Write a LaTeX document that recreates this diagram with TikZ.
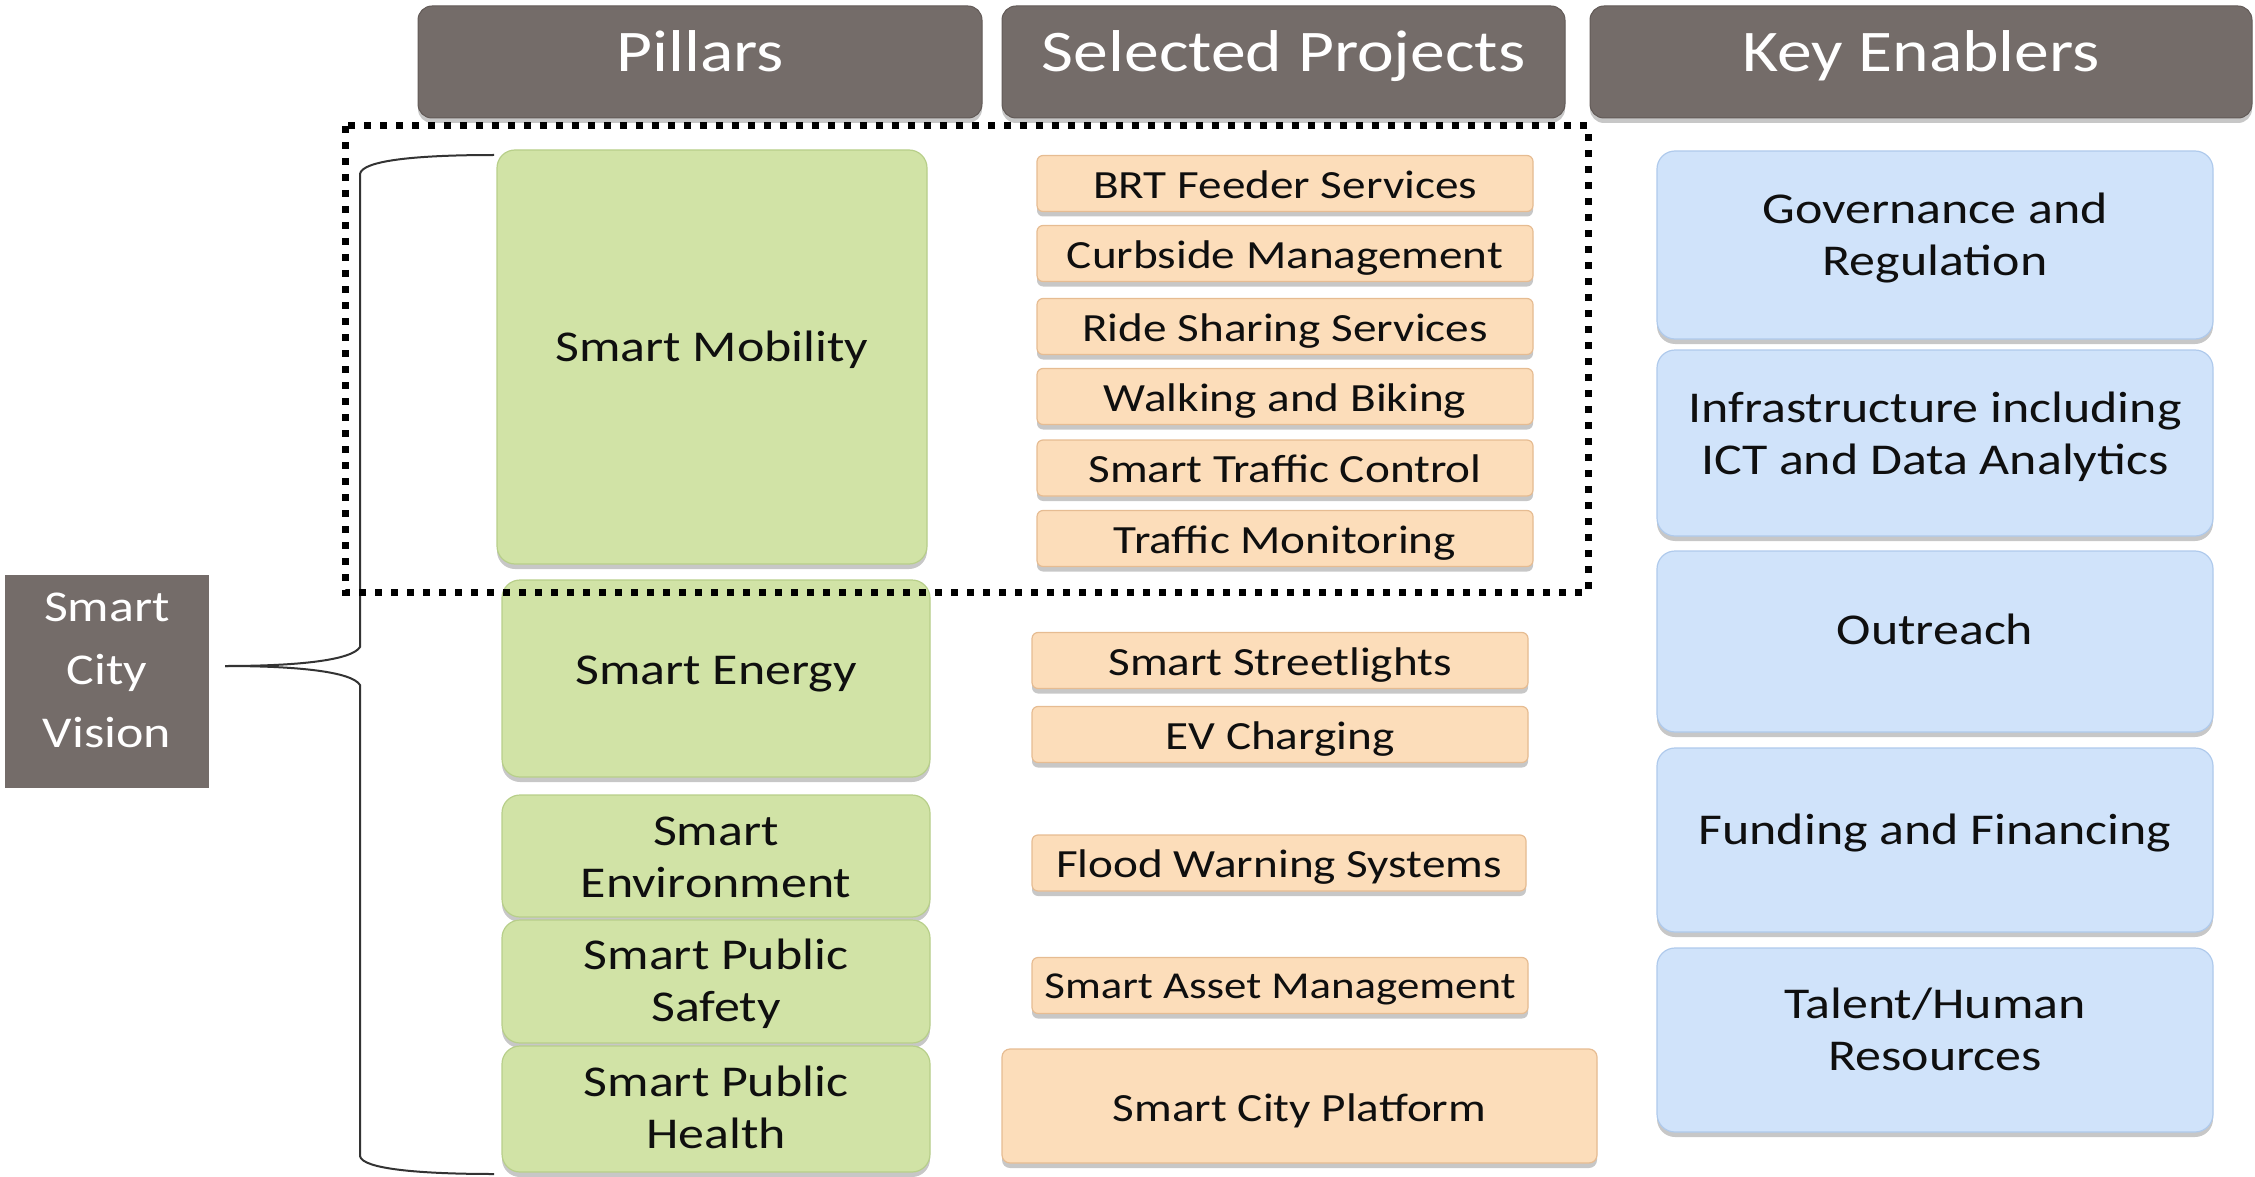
\documentclass[tikz,border=0pt]{standalone}
\usepackage{fontspec}
\setmainfont[FakeStretch=1.18]{Carlito}
\usetikzlibrary{shadows}
\definecolor{hdrfill}{HTML}{746C69}
\definecolor{hdredge}{HTML}{625A57}
\definecolor{grnfill}{HTML}{D1E3A6}
\definecolor{grnedge}{HTML}{B8CF8A}
\definecolor{orgfill}{HTML}{FCDDBA}
\definecolor{orgedge}{HTML}{E6BC92}
\definecolor{blufill}{HTML}{D0E3FA}
\definecolor{bluedge}{HTML}{AFCAEC}
\definecolor{txt}{HTML}{0F0F0F}
\newcommand\Lift[2]{\raisebox{#1}[\height][\depth]{\begin{tabular}{@{}c@{}}#2\end{tabular}}}
\begin{document}
\begin{tikzpicture}[x=1pt,y=-1pt,
  shadowed/.style={drop shadow={shadow xshift=0pt,shadow yshift=-5pt,opacity=.22,fill=black}},
  hdr/.style={shadowed,fill=hdrfill,draw=hdredge,line width=1pt,rounded corners=14pt,
    text=white,inner sep=0pt,minimum height=112pt,font=\fontsize{59}{71}\selectfont},
  pillar/.style={shadowed,fill=grnfill,draw=grnedge,line width=1.2pt,rounded corners=18pt,
    text=txt,inner sep=0pt,font=\fontsize{44}{52}\selectfont},
  proj/.style={shadowed,fill=orgfill,draw=orgedge,line width=1.2pt,rounded corners=6pt,
    text=txt,inner sep=0pt,minimum width=496pt,minimum height=56pt,font=\fontsize{40}{48}\selectfont},
  enabler/.style={shadowed,fill=blufill,draw=bluedge,line width=1.2pt,rounded corners=18pt,
    text=txt,inner sep=0pt,minimum width=556pt,font=\fontsize{44}{52}\selectfont},
  visionbox/.style={fill=hdrfill,draw=none,text=white,inner sep=0pt,
    font=\fontsize{44}{63}\selectfont},
  bracket/.style={draw=black!80,line width=2pt},
  dotframe/.style={draw=black,line width=7pt,dash pattern=on 7pt off 9pt}
]
\useasboundingbox (0,0) rectangle (2255,1177);

% headers
\node[hdr,minimum width=564pt] (hP) at (700,62) {\Lift{5pt}{Pillars}};
\node[hdr,minimum width=563pt] (hS) at (1283.5,62) {\Lift{5pt}{Selected Projects}};
\node[hdr,minimum width=662pt] (hK) at (1921,62) {\Lift{5pt}{Key Enablers}};

% vision
\node[visionbox,minimum width=204pt,minimum height=213pt] (vis) at (107,681.5)
  {\Lift{10pt}{Smart\\City\\Vision}};

% pillars
\node[pillar,minimum width=430pt,minimum height=414pt] (pMob) at (712,357) {\Lift{6pt}{Smart Mobility}};
\node[pillar,minimum width=428pt,minimum height=197pt] (pEne) at (716,678.5) {\Lift{4pt}{Smart Energy}};
\node[pillar,minimum width=428pt,minimum height=122pt] (pEnv) at (716,856) {\Lift{-5pt}{Smart\\Environment}};
\node[pillar,minimum width=428pt,minimum height=123pt] (pSaf) at (716,981.5) {\Lift{-4pt}{Smart Public\\Safety}};
\node[pillar,minimum width=428pt,minimum height=126pt] (pHea) at (716,1109) {\Lift{-3pt}{Smart Public\\Health}};

% projects
\node[proj] (jBRT)  at (1285,183.5) {\Lift{-5pt}{BRT Feeder Services}};
\node[proj] (jCurb) at (1285,253.5) {\Lift{-5pt}{Curbside Management}};
\node[proj] (jRide) at (1285,326.5) {\Lift{-5pt}{Ride Sharing Services}};
\node[proj] (jWalk) at (1285,396.5) {\Lift{-5pt}{Walking and Biking}};
\node[proj] (jSTC)  at (1285,468)   {\Lift{-5pt}{Smart Traffic Control}};
\node[proj] (jTM)   at (1285,538.5) {\Lift{-5pt}{Traffic Monitoring}};
\node[proj] (jSL)   at (1280,660.5) {\Lift{-5pt}{Smart Streetlights}};
\node[proj] (jEV)   at (1280,734.5) {\Lift{-5pt}{EV Charging}};
\node[proj,minimum width=494pt] (jFW) at (1279,863) {\Lift{-5pt}{Flood Warning Systems}};
\node[proj,font=\fontsize{38}{46}\selectfont] (jSAM) at (1280,985.5) {\Lift{-4pt}{Smart Asset Management}};
\node[proj,minimum width=595pt,minimum height=114pt,rounded corners=8pt] (jSCP) at (1299.5,1106) {\Lift{-6pt}{Smart City Platform}};

% enablers
\node[enabler,minimum height=188pt] (eGov)  at (1935,245)   {\Lift{6pt}{Governance and\\Regulation}};
\node[enabler,minimum height=186pt] (eInf)  at (1935,443)   {\Lift{5pt}{Infrastructure including\\ICT and Data Analytics}};
\node[enabler,minimum height=181pt] (eOut)  at (1935,641.5) {\Lift{7pt}{Outreach}};
\node[enabler,minimum height=184pt] (eFund) at (1935,840)   {\Lift{6pt}{Funding and Financing}};
\node[enabler,minimum height=184pt] (eTal)  at (1935,1040)  {\Lift{6pt}{Talent/Human\\Resources}};

% brace
\coordinate (tip) at (225,666);
\draw[bracket] (tip) .. controls (300,666) and (352,660) .. (360,647)
  -- (360,174) .. controls (362,160) and (420,155) .. (494,155);
\draw[bracket] (tip) .. controls (300,666) and (352,672) .. (360,685)
  -- (360,1156) .. controls (362,1169) and (420,1174) .. (494,1174);

% dotted frame
\draw[dotframe] (345,126) rectangle (1588,592);
\end{tikzpicture}
\end{document}
